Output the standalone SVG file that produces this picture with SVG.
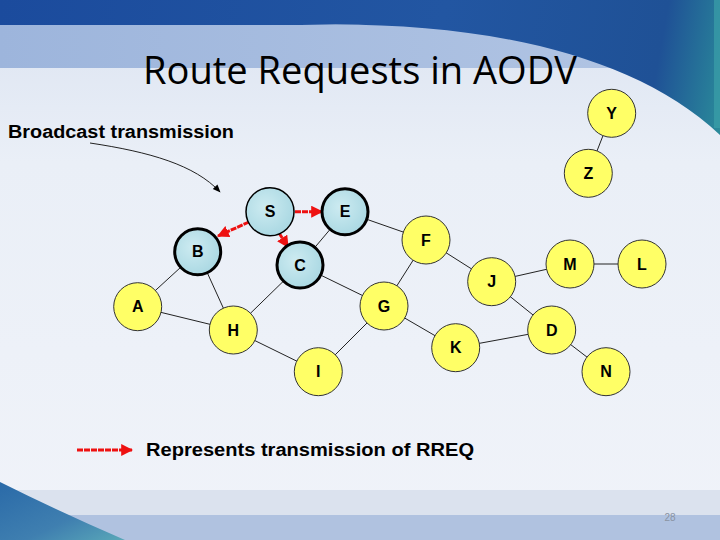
<svg xmlns="http://www.w3.org/2000/svg" width="720" height="540" viewBox="0 0 720 540">
<defs>
<linearGradient id="bg" x1="0" y1="0" x2="0" y2="1">
<stop offset="0" stop-color="#dbe3f1"/><stop offset="0.3" stop-color="#eaeff7"/><stop offset="1" stop-color="#f0f3f9"/>
</linearGradient>
<linearGradient id="band" x1="0" y1="0" x2="1" y2="0">
<stop offset="0" stop-color="#9db5dc"/><stop offset="1" stop-color="#b3c6e4"/>
</linearGradient>
<linearGradient id="dark" gradientUnits="userSpaceOnUse" x1="0" y1="0" x2="720" y2="130">
<stop offset="0" stop-color="#1b4b9d"/><stop offset="0.6" stop-color="#2256a2"/><stop offset="0.9" stop-color="#1f5196"/><stop offset="1" stop-color="#2a8a9a"/>
</linearGradient>
<linearGradient id="swoosh" x1="0" y1="0" x2="1" y2="1">
<stop offset="0" stop-color="#2a6aa8"/><stop offset="0.6" stop-color="#3f7fb0"/><stop offset="1" stop-color="#5aa8b8"/>
</linearGradient>
<radialGradient id="cyan" cx="0.4" cy="0.4" r="0.7">
<stop offset="0" stop-color="#cdebf1"/><stop offset="1" stop-color="#a6d6e1"/>
</radialGradient>
<marker id="ra" viewBox="0 0 10 10" refX="9" refY="5" markerWidth="4" markerHeight="4" orient="auto" markerUnits="strokeWidth">
<path d="M0,0 L10,5 L0,10 Z" fill="#ee1111"/>
</marker>
<marker id="ba" viewBox="0 0 10 10" refX="9" refY="5" markerWidth="8" markerHeight="8" orient="auto" markerUnits="strokeWidth">
<path d="M0,1 L10,5 L0,9 Z" fill="#000"/>
</marker>
<style>
.y{fill:#ffff66;stroke:#333;stroke-width:1}
.c{fill:url(#cyan);stroke:#000;stroke-width:3}
.lbl{font-family:"Liberation Sans",Arial,sans-serif;font-weight:bold;font-size:16px;fill:#000;text-anchor:middle;dominant-baseline:central}
.e{stroke:#222;stroke-width:1;fill:none}
.r{stroke:#ee1111;stroke-width:3;stroke-dasharray:6 1;fill:none;marker-end:url(#ra)}
</style>
</defs>
<rect width="720" height="540" fill="url(#bg)"/>
<rect x="0" y="25" width="720" height="43" fill="url(#band)"/>
<path d="M0,0 L720,0 L720,135 C630,50 470,20 300,25 L0,25 Z" fill="url(#dark)"/>
<rect x="714" y="0" width="6" height="128" fill="#3aa0a8" opacity="0.7"/>
<rect x="0" y="490" width="720" height="25" fill="#dbe2ee"/>
<rect x="0" y="515" width="720" height="25" fill="#b0c2e0"/>
<path d="M0,482 Q60,512 125,540 L0,540 Z" fill="url(#swoosh)"/>
<text x="360" y="84" font-family="'Open Sans','Noto Sans',sans-serif" font-size="38" fill="#000" text-anchor="middle" textLength="434" lengthAdjust="spacingAndGlyphs">Route Requests in AODV</text>
<text x="8" y="138" font-family="'Liberation Sans',Arial,sans-serif" font-weight="bold" font-size="18" fill="#000" textLength="226" lengthAdjust="spacingAndGlyphs">Broadcast transmission</text>
<text x="146" y="456" font-family="'Liberation Sans',Arial,sans-serif" font-weight="bold" font-size="18" fill="#000" textLength="328" lengthAdjust="spacingAndGlyphs">Represents transmission of RREQ</text>
<text x="670" y="521" font-family="'Liberation Sans',Arial,sans-serif" font-size="10" fill="#8a93a3" text-anchor="middle">28</text>
<g id="connectors">
<line class="e" x1="611.7" y1="113.3" x2="588.3" y2="173.3"/>
<line class="e" x1="345" y1="211.7" x2="300" y2="265"/>
<line class="e" x1="345" y1="211.7" x2="426" y2="240"/>
<line class="e" x1="197.7" y1="251.7" x2="137.7" y2="306.7"/>
<line class="e" x1="197.7" y1="251.7" x2="233.3" y2="330"/>
<line class="e" x1="137.7" y1="306.7" x2="233.3" y2="330"/>
<line class="e" x1="300" y1="265" x2="233.3" y2="330"/>
<line class="e" x1="300" y1="265" x2="384" y2="306"/>
<line class="e" x1="233.3" y1="330" x2="318.3" y2="371.7"/>
<line class="e" x1="384" y1="306" x2="318.3" y2="371.7"/>
<line class="e" x1="426" y1="240" x2="384" y2="306"/>
<line class="e" x1="426" y1="240" x2="491.7" y2="281.7"/>
<line class="e" x1="491.7" y1="281.7" x2="570" y2="264"/>
<line class="e" x1="491.7" y1="281.7" x2="551.7" y2="330"/>
<line class="e" x1="384" y1="306" x2="455.7" y2="347.7"/>
<line class="e" x1="455.7" y1="347.7" x2="551.7" y2="330"/>
<line class="e" x1="570" y1="264" x2="642" y2="264"/>
<line class="e" x1="551.7" y1="330" x2="606" y2="371.7"/>
<path class="e" d="M90,143 C150,152 195,165 220,192" marker-end="url(#ba)"/>
<line class="r" x1="295" y1="211.7" x2="322" y2="211.7"/>
<line class="r" x1="249" y1="222" x2="218" y2="236"/>
<line class="r" x1="279" y1="233" x2="288" y2="247"/>
<line class="r" x1="77" y1="450" x2="132" y2="450"/>
</g>
<g id="node-S"><circle cx="270" cy="211.7" r="24" class="c" style="stroke-width:1.5"/><text class="lbl" x="270" y="211.7">S</text></g>
<g id="node-E"><circle cx="345" cy="211.7" r="23" class="c"/><text class="lbl" x="345" y="211.7">E</text></g>
<g id="node-B"><circle cx="197.7" cy="251.7" r="23" class="c"/><text class="lbl" x="197.7" y="251.7">B</text></g>
<g id="node-C"><circle cx="300" cy="265" r="23" class="c"/><text class="lbl" x="300" y="265">C</text></g>
<g id="node-A"><circle cx="137.7" cy="306.7" r="24" class="y"/><text class="lbl" x="137.7" y="306.7">A</text></g>
<g id="node-H"><circle cx="233.3" cy="330" r="24" class="y"/><text class="lbl" x="233.3" y="330">H</text></g>
<g id="node-I"><circle cx="318.3" cy="371.7" r="24" class="y"/><text class="lbl" x="318.3" y="371.7">I</text></g>
<g id="node-G"><circle cx="384" cy="306" r="24" class="y"/><text class="lbl" x="384" y="306">G</text></g>
<g id="node-F"><circle cx="426" cy="240" r="24" class="y"/><text class="lbl" x="426" y="240">F</text></g>
<g id="node-J"><circle cx="491.7" cy="281.7" r="24" class="y"/><text class="lbl" x="491.7" y="281.7">J</text></g>
<g id="node-K"><circle cx="455.7" cy="347.7" r="24" class="y"/><text class="lbl" x="455.7" y="347.7">K</text></g>
<g id="node-M"><circle cx="570" cy="264" r="24" class="y"/><text class="lbl" x="570" y="264">M</text></g>
<g id="node-L"><circle cx="642" cy="264" r="24" class="y"/><text class="lbl" x="642" y="264">L</text></g>
<g id="node-D"><circle cx="551.7" cy="330" r="24" class="y"/><text class="lbl" x="551.7" y="330">D</text></g>
<g id="node-N"><circle cx="606" cy="371.7" r="24" class="y"/><text class="lbl" x="606" y="371.7">N</text></g>
<g id="node-Y"><circle cx="611.7" cy="113.3" r="24" class="y"/><text class="lbl" x="611.7" y="113.3">Y</text></g>
<g id="node-Z"><circle cx="588.3" cy="173.3" r="24" class="y"/><text class="lbl" x="588.3" y="173.3">Z</text></g>
</svg>
